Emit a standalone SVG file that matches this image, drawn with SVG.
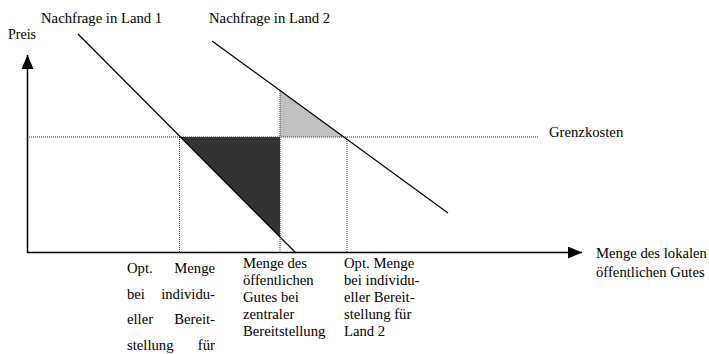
<svg xmlns="http://www.w3.org/2000/svg" width="709" height="354" viewBox="0 0 709 354">
<style>
text{font-family:"Liberation Serif","Times New Roman",serif;font-size:14.7px;fill:#000}
.dot{stroke:#333;stroke-width:1;stroke-dasharray:1 1;fill:none}
.dem{stroke:#000;stroke-width:1.2;fill:none}
.axis{stroke:#000;stroke-width:1.5;fill:none}
</style>
<defs>
<marker id="arr" markerWidth="14" markerHeight="12" refX="14" refY="6" orient="auto" markerUnits="userSpaceOnUse">
<path d="M0,0 L14,6 L0,12 Z" fill="#000"/>
</marker>
</defs>
<g id="areas">
<polygon points="180.5,137 280,137 280,237" fill="#333"/>
<polygon points="280,90.6 280,137 345,137" fill="#c0c0c0"/>
</g>
<g id="guides">
<line class="dot" x1="27" y1="137" x2="538" y2="137"/>
<line class="dot" x1="179.5" y1="137" x2="179.5" y2="252"/>
<line class="dot" x1="280" y1="91" x2="280" y2="252"/>
<line class="dot" x1="347" y1="137" x2="347" y2="252"/>
</g>
<g id="connectors">
<line class="axis" x1="27.5" y1="253" x2="27.5" y2="55" marker-end="url(#arr)"/>
<line class="axis" x1="27" y1="252.5" x2="582" y2="252.5" marker-end="url(#arr)"/>
<line class="dem" x1="78" y1="34" x2="296" y2="253"/>
<line class="dem" x1="212" y1="41" x2="448" y2="213"/>
</g>
<g id="labels">
<text x="41" y="22.5">Nachfrage in Land 1</text>
<text x="209" y="22.5">Nachfrage in Land 2</text>
<text x="8" y="39" style="font-size:14px">Preis</text>
<text x="549" y="137">Grenzkosten</text>
<text x="596" y="258">Menge des lokalen</text>
<text x="596" y="277">öffentlichen Gutes</text>
</g>
<g id="label-col1">
<text x="127" y="273">Opt.</text><text x="215" y="273" text-anchor="end">Menge</text>
<text x="127" y="299">bei</text><text x="215" y="299" text-anchor="end">individu-</text>
<text x="127" y="324">eller</text><text x="215" y="324" text-anchor="end">Bereit-</text>
<text x="127" y="350">stellung</text><text x="215" y="350" text-anchor="end">für</text>
</g>
<g id="label-col2">
<text x="243" y="268">Menge des</text>
<text x="243" y="285">öffentlichen</text>
<text x="243" y="302">Gutes bei</text>
<text x="243" y="319">zentraler</text>
<text x="243" y="336">Bereitstellung</text>
</g>
<g id="label-col3">
<text x="344" y="268">Opt. Menge</text>
<text x="344" y="285">bei individu-</text>
<text x="344" y="302">eller Bereit-</text>
<text x="344" y="319">stellung für</text>
<text x="344" y="336">Land 2</text>
</g>
</svg>
